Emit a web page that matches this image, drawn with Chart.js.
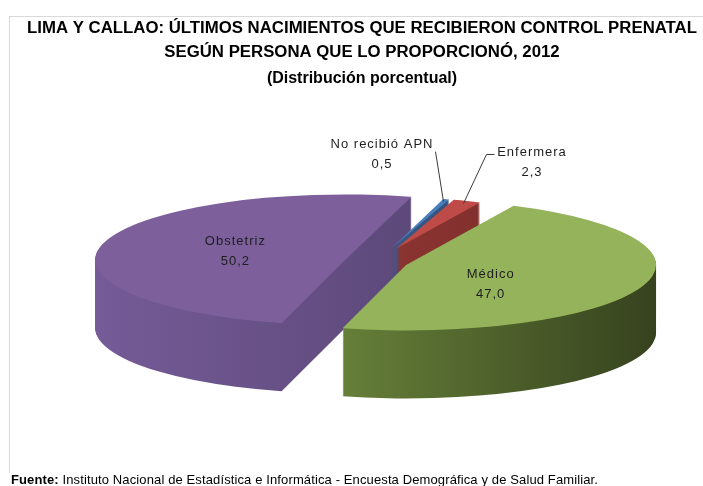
<!DOCTYPE html>
<html>
<head>
<meta charset="utf-8">
<script src="https://cdn.jsdelivr.net/npm/chart.js@4.4.1/dist/chart.umd.min.js"></script>
<style>
  html, body { margin: 0; padding: 0; background: #ffffff; }
  #wrap { position: relative; width: 703px; height: 486px; overflow: hidden; background: #ffffff; }
  #frame { position: absolute; left: 9px; top: 16px; width: 720px; height: 456px;
           border-left: 1px solid #d9d9d9; border-top: 1px solid #d9d9d9; }
  #c { position: absolute; left: 0; top: 0; }
  #src { position: absolute; left: 11px; top: 472px; white-space: nowrap; letter-spacing: 0.12px;
         font: 13px "Liberation Sans", Arial, sans-serif; color: #000; }
</style>
</head>
<body>
<div id="wrap">
  <div id="frame"></div>
  <canvas id="c" width="703" height="486"></canvas>
  <div id="src"><b>Fuente:</b> Instituto Nacional de Estadística e Informática - Encuesta Demográfica y de Salud Familiar.</div>
</div>
<script>
// ---- data ----
const categories = ['Médico', 'Obstetriz', 'No recibió APN', 'Enfermera'];
const values = [47.0, 50.2, 0.5, 2.3];
const valueLabels = values.map(v => v.toFixed(1).replace('.', ','));

const titleLines = [
  'LIMA Y CALLAO: ÚLTIMOS NACIMIENTOS QUE RECIBIERON CONTROL PRENATAL',
  'SEGÚN PERSONA QUE LO PROPORCIONÓ, 2012'
];
const subtitleText = '(Distribución porcentual)';

// ---- styles ----
const topColors = ['#94b35a', '#7c5f9b', '#4a7ebb', '#be4b48'];
const sideLight = ['#82a348', '#755b97', '#44699a', '#9e3c39'];
const sideDark  = ['#36421e', '#4f3e69', '#2c4870', '#772b29'];
const explode = [32, 32, 55, 55];        // px, along slice mid-angle (unsquashed)
const sliceScale = [1, 1, 0.78, 0.78];   // far slices look smaller (perspective)
const squash = 0.262;                    // vertical tilt factor
const depth = 68;                        // px thickness
const pieShiftX = 14;                    // horizontal nudge of the pie
const labelLayout = [
  { type: 'in', r: 0.45, nudge: 21.5 },
  { type: 'in', r: 0.46, nudge: 1.5 },
  { type: 'out', at: 0.95, leader: [[-8, -50]], text: [-62, -47] },
  { type: 'out', at: 0.95, leader: [[23, -49], [31, -49]], text: [68, -41] }
];

const pie3d = {
  id: 'pie3d',
  beforeDatasetsDraw(chart) {
    const ctx = chart.ctx;
    const arcs = chart.getDatasetMeta(0).data;
    const dpr = chart.currentDevicePixelRatio || 1;
    const R = arcs[0].outerRadius;
    const cx = arcs[0].x + pieShiftX, cy = arcs[0].y;
    const geo = arcs.map((el, i) => {
      const mid = (el.startAngle + el.endAngle) / 2;
      const s = sliceScale[i];
      return { el, mid, s,
               ax: cx + Math.cos(mid) * explode[i],
               ay: cy + Math.sin(mid) * explode[i] * squash };
    });
    const setT = (g, d) => {
      ctx.setTransform(dpr * g.s, 0, 0, dpr * squash * g.s,
                       dpr * (g.ax - g.s * g.el.x),
                       dpr * (g.ay + d - squash * g.s * g.el.y));
    };
    const fakes = geo.map((g, i) => {
      const grad = ctx.createLinearGradient(g.el.x - R, 0, g.el.x + R, 0);
      grad.addColorStop(0, sideLight[i]);
      grad.addColorStop(1, sideDark[i]);
      const f = Object.create(g.el);
      f.options = Object.assign({}, g.el.options, { backgroundColor: grad, borderWidth: 0, offset: 0 });
      return f;
    });
    ctx.save();
    for (let d = depth; d >= 1; d--) {
      geo.forEach((g, i) => { setT(g, d); fakes[i].draw(ctx); });
    }
    geo.forEach(g => { setT(g, 0); g.el.draw(ctx); });
    ctx.restore();

    // labels
    ctx.save();
    ctx.fillStyle = '#1e1e1e';
    ctx.strokeStyle = '#3a3a3a';
    ctx.lineWidth = 1;
    ctx.font = '13px "Liberation Sans", Arial, sans-serif';
    ctx.letterSpacing = '1px';
    ctx.textAlign = 'center';
    ctx.textBaseline = 'middle';
    geo.forEach((g, i) => {
      const L = labelLayout[i];
      const r = R * g.s;
      let tx, ty;
      if (L.type === 'in') {
        const a = g.mid + L.nudge * Math.PI / 180;
        tx = g.ax + Math.cos(a) * r * L.r;
        ty = g.ay + Math.sin(a) * r * L.r * squash;
      } else {
        const px = g.ax + Math.cos(g.mid) * r * L.at;
        const py = g.ay + Math.sin(g.mid) * r * L.at * squash;
        ctx.beginPath();
        ctx.moveTo(px, py);
        L.leader.forEach(p => ctx.lineTo(px + p[0], py + p[1]));
        ctx.stroke();
        tx = px + L.text[0];
        ty = py + L.text[1];
      }
      ctx.fillText(categories[i], tx + 0.5, ty - 10);
      ctx.fillText(valueLabels[i], tx + 0.5, ty + 10);
    });
    ctx.restore();
    return false;
  }
};

new Chart(document.getElementById('c'), {
  type: 'pie',
  data: {
    labels: categories,
    datasets: [{
      data: values,
      backgroundColor: topColors,
      borderWidth: 0,
      hoverOffset: 0,
      clip: false
    }]
  },
  options: {
    responsive: false,
    animation: false,
    events: [],
    rotation: 25.5,
    radius: 250,
    layout: { padding: { top: 16, left: 21, right: 0, bottom: 50 } },
    plugins: {
      legend: { display: false },
      tooltip: { enabled: false },
      title: {
        display: true,
        text: titleLines,
        color: '#000',
        font: { family: '"Liberation Sans", Arial, sans-serif', size: 16.8, weight: 'bold', lineHeight: 1.458 },
        padding: { top: 0, bottom: 4 }
      },
      subtitle: {
        display: true,
        text: subtitleText,
        color: '#000',
        font: { family: '"Liberation Sans", Arial, sans-serif', size: 16, weight: 'bold', lineHeight: 1.2 },
        padding: { top: 0, bottom: 0 }
      }
    }
  },
  plugins: [pie3d]
});
</script>
</body>
</html>
